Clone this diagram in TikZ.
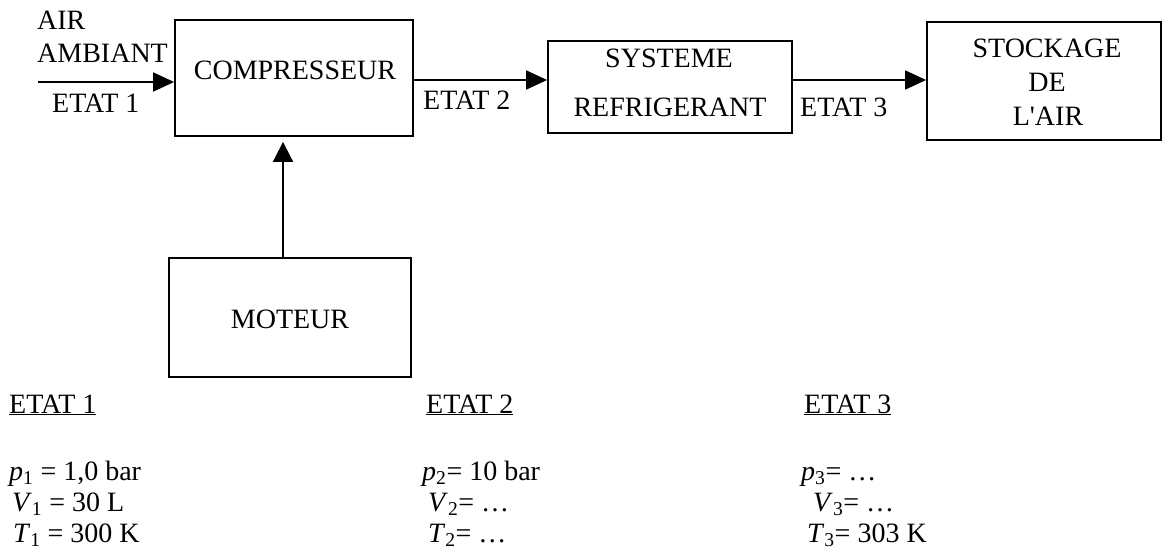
\documentclass[tikz,border=0pt]{standalone}
\usepackage{fontspec}
\setmainfont{Liberation Serif}
\newfontfamily\rawserif{Liberation Serif}
\usetikzlibrary{arrows.meta}
\tikzset{
  box/.style={draw, line width=1.8pt, rectangle, inner sep=0pt},
  txt/.style={inner sep=0pt, anchor=base, font=\fontsize{28}{32}\selectfont},
  ltxt/.style={inner sep=0pt, anchor=base west, font=\fontsize{28}{32}\selectfont},
  arr/.style={line width=1.8pt, -{Triangle[length=21pt,width=19pt]}},
}
\begin{document}
\begin{tikzpicture}[x=1pt,y=-1pt]
\useasboundingbox (0,0) rectangle (1162,551);
% boxes
\node[box, minimum width=238pt, minimum height=116pt] (comp) at (294,78) {};
\node[box, minimum width=244pt, minimum height=92pt] (refr) at (670,87) {};
\node[box, minimum width=234pt, minimum height=118pt] (stock) at (1044,81) {};
\node[box, minimum width=242pt, minimum height=119pt] (mot) at (290,317.5) {};
% box texts
\node[txt] (tcomp) at (295,80) {COMPRESSEUR};
\node[txt] (tsys) at (669,68) {SYSTEME};
\node[txt] (tref) at (670,117) {REFRIGERANT};
\node[txt] (tsto) at (1047,58) {STOCKAGE};
\node[txt] (tde) at (1047,92) {DE};
\node[txt] (tair) at (1048,125) {\rawserif L'AIR};
\node[txt] (tmot) at (290,328) {MOTEUR};
% labels near arrows
\node[ltxt] (lair) at (37,30) {AIR};
\node[ltxt] (lamb) at (37,63) {AMBIANT};
\node[ltxt] (le1) at (52,112) {ETAT 1};
\node[ltxt] (le2) at (423,110) {ETAT 2};
\node[ltxt] (le3) at (800,117) {ETAT 3};
% connectors
\coordinate (ain) at (38,82);
\draw[arr] (ain) -- (ain -| comp.west);
\coordinate (a2) at (comp.east |- 0,80);
\draw[arr] (a2) -- (a2 -| refr.west);
\coordinate (a3) at (refr.east |- 0,80);
\draw[arr] (a3) -- (a3 -| stock.west);
\coordinate (m1) at (283,258);
\draw[line width=1.8pt, -{Triangle[length=20pt,width=20pt]}, shorten >=5pt] (m1) -- (m1 |- comp.south);
% state tables
\node[ltxt] (h1) at (9,413) {\underline{ETAT 1}};
\node[ltxt] (h2) at (426,413) {\underline{ETAT 2}};
\node[ltxt] (h3) at (804,413) {\underline{ETAT 3}};
\node[ltxt] (p1) at (9,480) {\textit{p}\textsubscript{1} = 1,0 bar};
\node[ltxt] (v1) at (12,511) {\textit{V}\textsubscript{1} = 30 L};
\node[ltxt] (t1) at (13,542) {\textit{T}\textsubscript{1} = 300 K};
\node[ltxt] (p2) at (422,480) {\textit{p}\textsubscript{2}= 10 bar};
\node[ltxt] (v2) at (428,511) {\textit{V}\textsubscript{2}= …};
\node[ltxt] (t2) at (428,542) {\textit{T}\textsubscript{2}= …};
\node[ltxt] (p3) at (801,480) {\textit{p}\textsubscript{3}= …};
\node[ltxt] (v3) at (813,511) {\textit{V}\textsubscript{3}= …};
\node[ltxt] (t3) at (807,542) {\textit{T}\textsubscript{3}= 303 K};
\end{tikzpicture}
\end{document}
